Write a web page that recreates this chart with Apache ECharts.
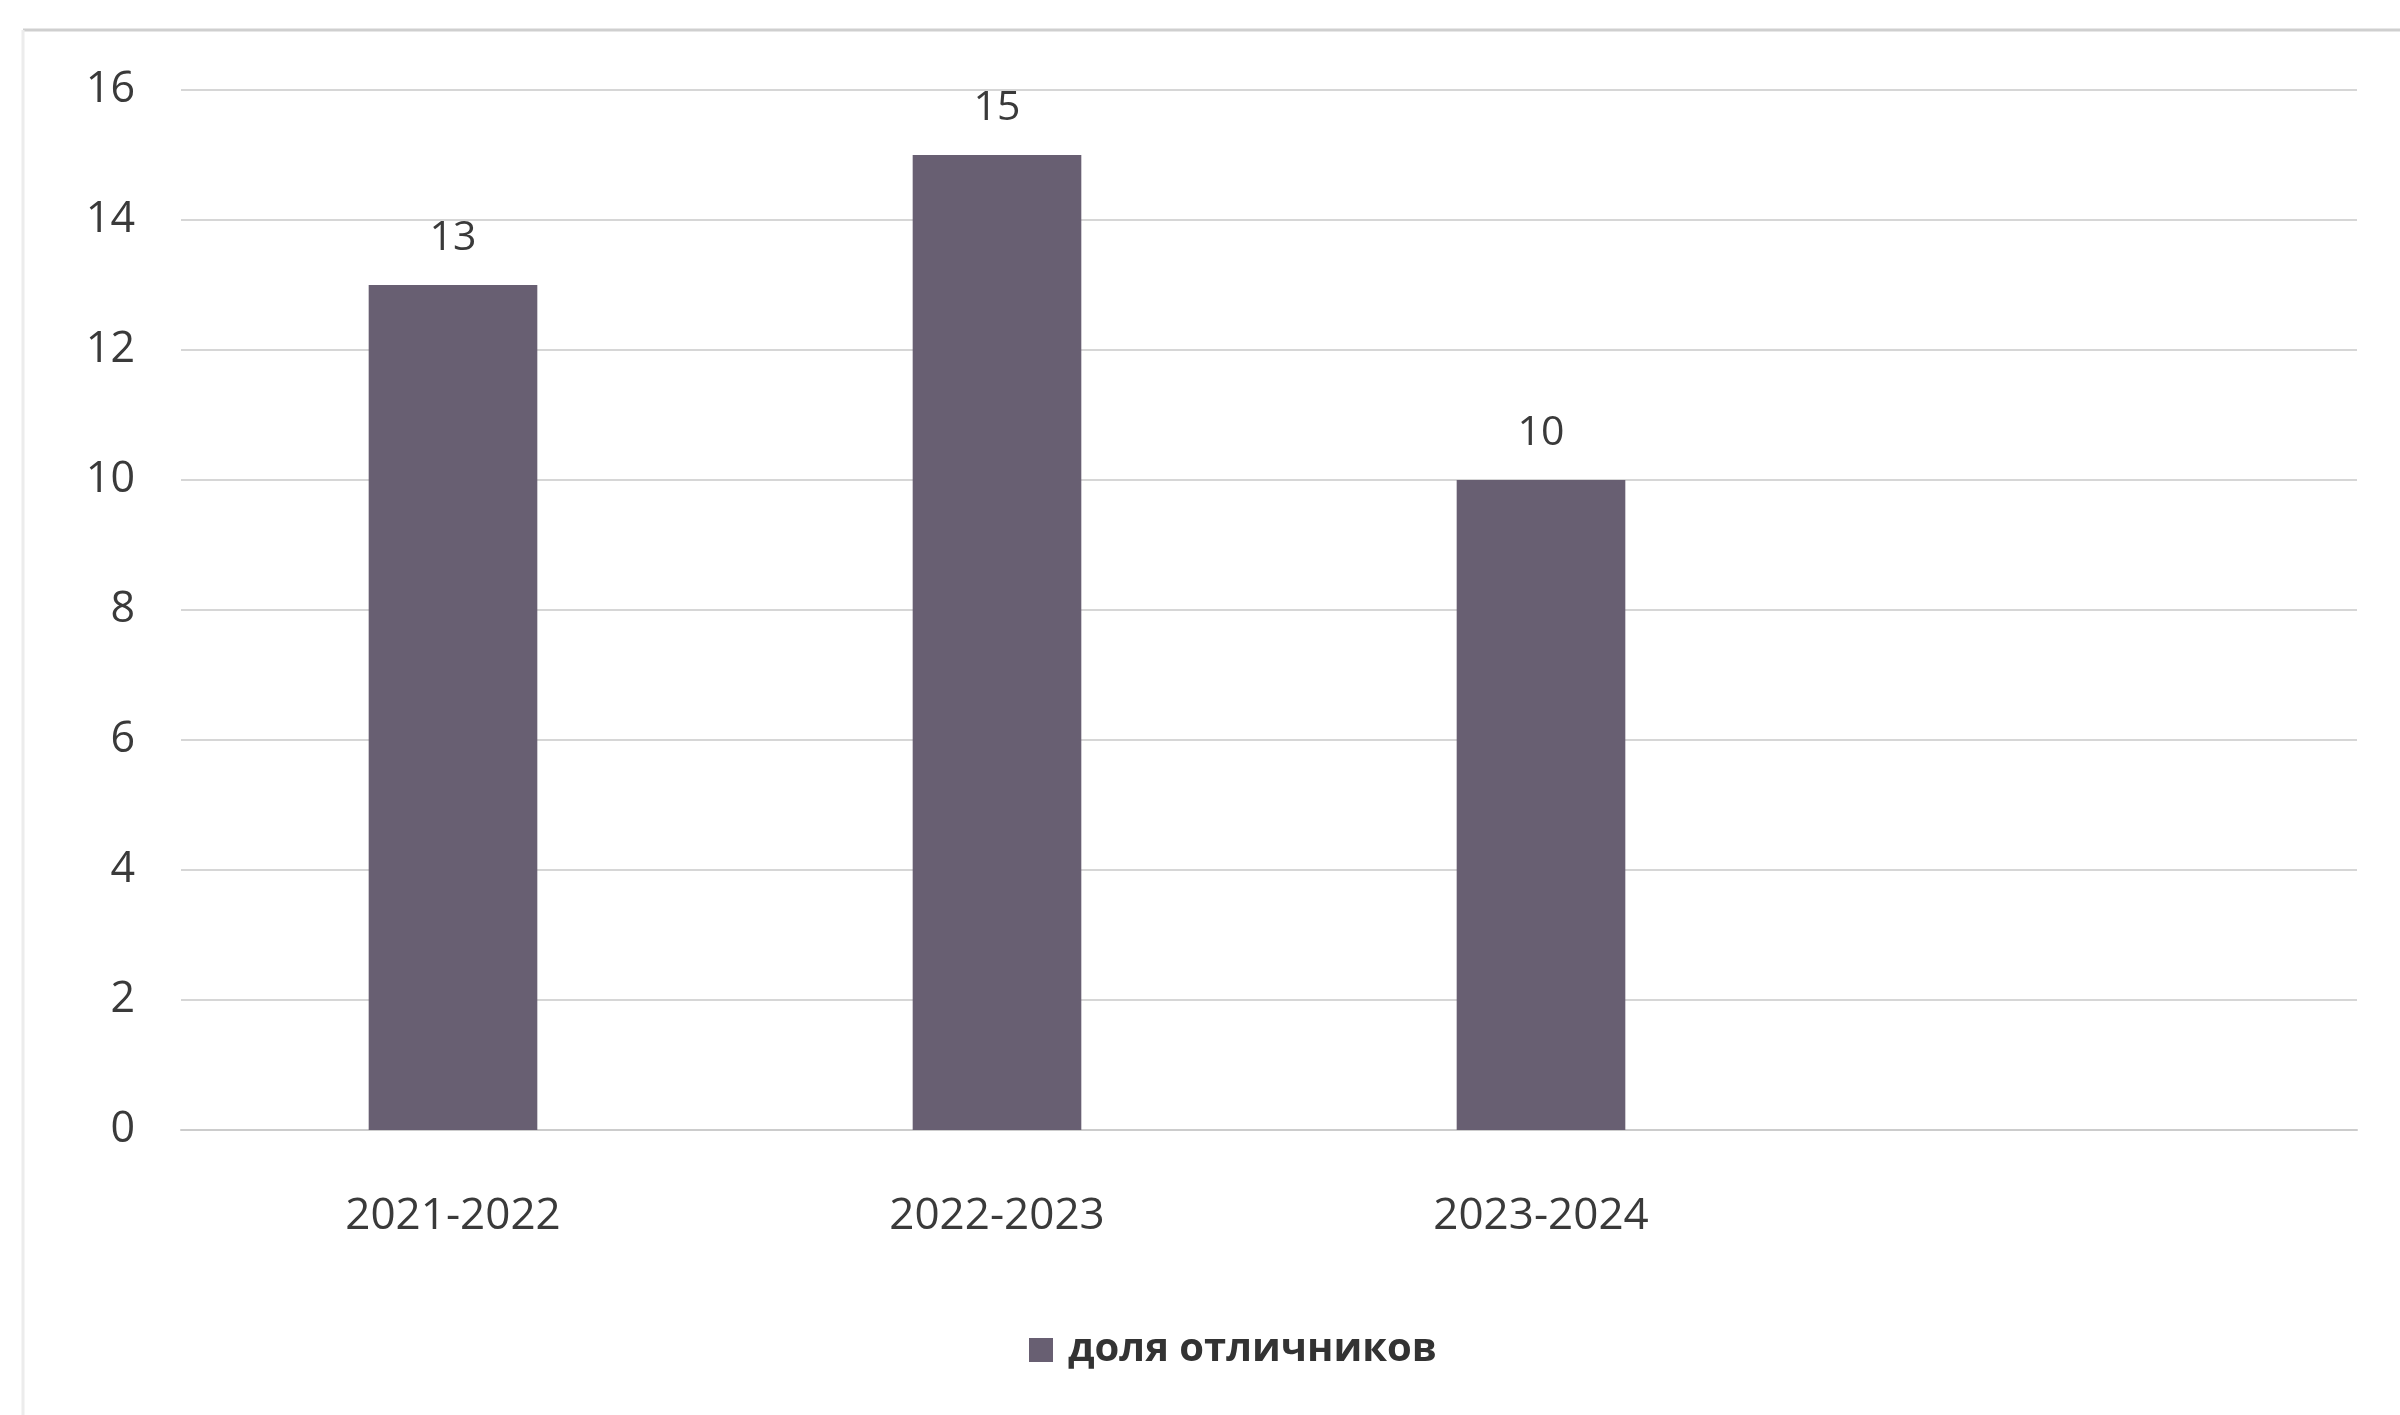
<!DOCTYPE html>
<html>
<head>
<meta charset="utf-8">
<script src="https://cdn.jsdelivr.net/npm/echarts@6/dist/echarts.min.js"></script>
<style>html,body{margin:0;padding:0;background:#fff}#c{width:2400px;height:1415px}</style>
</head>
<body>
<div id="c"></div>
<script>
const categories = ['2021-2022', '2022-2023', '2023-2024', ''];
const seriesName = 'доля отличников';
const values = [13, 15, 10, '-'];
const yTicks = { min: 0, max: 16, interval: 2 };

const chart = echarts.init(document.getElementById('c'));
const font = '"Open Sans", "Liberation Sans", sans-serif';
chart.setOption({
  backgroundColor: '#ffffff',
  animation: false,
  graphic: [
    { type: 'line', shape: { x1: 23, y1: 30, x2: 2400, y2: 30 }, style: { stroke: '#cfcfcf', lineWidth: 3 } },
    { type: 'line', shape: { x1: 23, y1: 30, x2: 23, y2: 1415 }, style: { stroke: '#ececec', lineWidth: 3 } }
  ],
  grid: { left: 181, right: 43, top: 90, bottom: 285 },
  legend: {
    data: [seriesName],
    bottom: 40,
    left: 1024,
    itemWidth: 24,
    itemHeight: 24,
    icon: 'rect',
    textStyle: { fontFamily: font, fontSize: 40, color: '#333333', fontWeight: 'bold', padding: [0, 0, 0, 10] }
  },
  xAxis: {
    type: 'category',
    data: categories,
    axisLine: { show: true, lineStyle: { color: '#cccccc', width: 2 } },
    axisTick: { show: false },
    axisLabel: { fontFamily: font, fontSize: 44, color: '#3a3a3a', margin: 64 },
    splitLine: { show: false }
  },
  yAxis: {
    type: 'value',
    min: yTicks.min,
    max: yTicks.max,
    interval: yTicks.interval,
    axisLine: { show: false },
    axisTick: { show: false },
    axisLabel: { fontFamily: font, fontSize: 43, color: '#3a3a3a', margin: 46 },
    splitLine: { lineStyle: { color: '#d6d6d6', width: 2 } }
  },
  series: [{
    name: seriesName,
    type: 'bar',
    data: values,
    barWidth: '31%',
    itemStyle: { color: '#685f72' },
    label: {
      show: true,
      position: 'top',
      distance: 26,
      fontFamily: font,
      fontSize: 41,
      color: '#3a3a3a'
    }
  }]
});
</script>
</body>
</html>
